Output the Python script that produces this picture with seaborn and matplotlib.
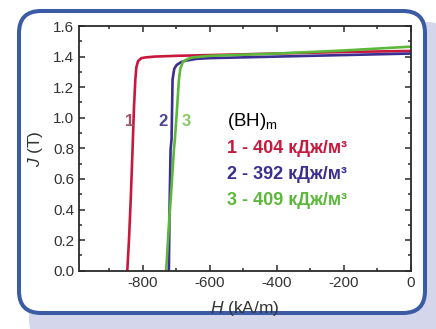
import numpy as np
import pandas as pd
import matplotlib
matplotlib.use("Agg")
import matplotlib.pyplot as plt
import seaborn as sns
from matplotlib.patches import FancyBboxPatch
from matplotlib.ticker import MultipleLocator

# demagnetization curves J(H)
H1 = [-846, -841, -836, -831, -826, -822, -819, -814, -804, -790, -764, -700, -600, -400, -200, 0]
J1 = [0.0, 0.2, 0.45, 0.75, 1.07, 1.25, 1.33, 1.37, 1.39, 1.395, 1.40, 1.405, 1.41, 1.42, 1.43, 1.437]
H2 = [-722, -721, -720, -717, -714, -711, -706, -699, -685, -670, -640, -600, -400, -200, 0]
J2 = [0.0, 0.2, 0.4, 0.79, 0.86, 1.25, 1.32, 1.345, 1.365, 1.374, 1.385, 1.39, 1.40, 1.41, 1.42]
H3 = [-730, -722, -714, -707, -704, -698, -692, -688, -680, -665, -650, -600, -400, -200, 0]
J3 = [0.0, 0.3, 0.55, 0.79, 0.86, 1.05, 1.25, 1.32, 1.367, 1.385, 1.395, 1.405, 1.42, 1.44, 1.465]

curve_names = ["1", "2", "3"]
bh_text = ["1 - 404 кДж/м³", "2 - 392 кДж/м³", "3 - 409 кДж/м³"]
colors = ["#c8183e", "#3a2f90", "#5cb83a"]
label_colors = ["#a25464", "#4b4592", "#86c864"]

df = pd.concat([
    pd.DataFrame({"H": H1, "J": J1, "curve": "1"}),
    pd.DataFrame({"H": H2, "J": J2, "curve": "2"}),
    pd.DataFrame({"H": H3, "J": J3, "curve": "3"}),
])

sns.set_style("ticks")
plt.rcParams["font.family"] = ["Liberation Sans", "DejaVu Sans"]
plt.rcParams["mathtext.fontset"] = "custom"
plt.rcParams["mathtext.it"] = "Liberation Sans:italic"
plt.rcParams["mathtext.rm"] = "Liberation Sans"
plt.rcParams["axes.unicode_minus"] = False

fig = plt.figure(figsize=(4.36, 3.29), dpi=100)

# frame with shadow (pixel coords)
bg = fig.add_axes([0, 0, 1, 1], zorder=0)
bg.set_xlim(0, 436)
bg.set_ylim(329, 0)
bg.axis("off")
bg.add_patch(FancyBboxPatch((29, 22), 420, 320, boxstyle="round,pad=0,rounding_size=22",
                            facecolor="#d4d7ec", edgecolor="none"))
bg.add_patch(FancyBboxPatch((19, 11), 406, 302, boxstyle="round,pad=0,rounding_size=22",
                            facecolor="white", edgecolor="#3b5ba5", linewidth=2.9))

ax = fig.add_axes([79 / 436, 1 - 270.7 / 329, (411 - 79) / 436, (270.7 - 26) / 329], zorder=1)
ax.set_facecolor("white")

sns.lineplot(data=df, x="H", y="J", hue="curve", palette=dict(zip(curve_names, colors)),
             sort=False, estimator=None, linewidth=1.9, legend=False, ax=ax)

ax.set_xlim(-990, 0)
ax.set_ylim(0, 1.6)
ax.xaxis.set_major_locator(MultipleLocator(200))
ax.xaxis.set_minor_locator(MultipleLocator(100))
ax.yaxis.set_major_locator(MultipleLocator(0.2))
ax.yaxis.set_minor_locator(MultipleLocator(0.1))
ax.yaxis.set_major_formatter(matplotlib.ticker.FormatStrFormatter("%.1f"))
ax.tick_params(which="both", direction="in", top=True, right=True, colors="#2a2a2a",
               labelcolor="#333333", labelsize=11, width=1.1)
ax.tick_params(which="major", length=4)
ax.tick_params(which="minor", length=2.5)
for s in ax.spines.values():
    s.set_color("#2a2a2a")
    s.set_linewidth(1.3)

ax.set_xlabel(r"$\it{H}$ (kA/m)", fontsize=12.5, color="#333333", labelpad=7)
ax.set_ylabel(r"$\it{J}$ (T)", fontsize=12.5, color="#333333", labelpad=6)

# curve numbers
for name, hx, c in zip(curve_names, [-839, -741, -670], label_colors):
    ax.text(hx, 0.975, name, color=c, fontsize=12, fontweight="bold", ha="center", va="center")

# (BH)m block
ax.text(-550, 0.975, r"(BH)$_\mathrm{m}$", color="black", fontsize=13.5, ha="left", va="center")
for t, c, jy in zip(bh_text, colors, [0.80, 0.63, 0.46]):
    ax.text(-550, jy, t, color=c, fontsize=13, fontweight="bold", ha="left", va="center")

fig.savefig("out.png", dpi=100)
